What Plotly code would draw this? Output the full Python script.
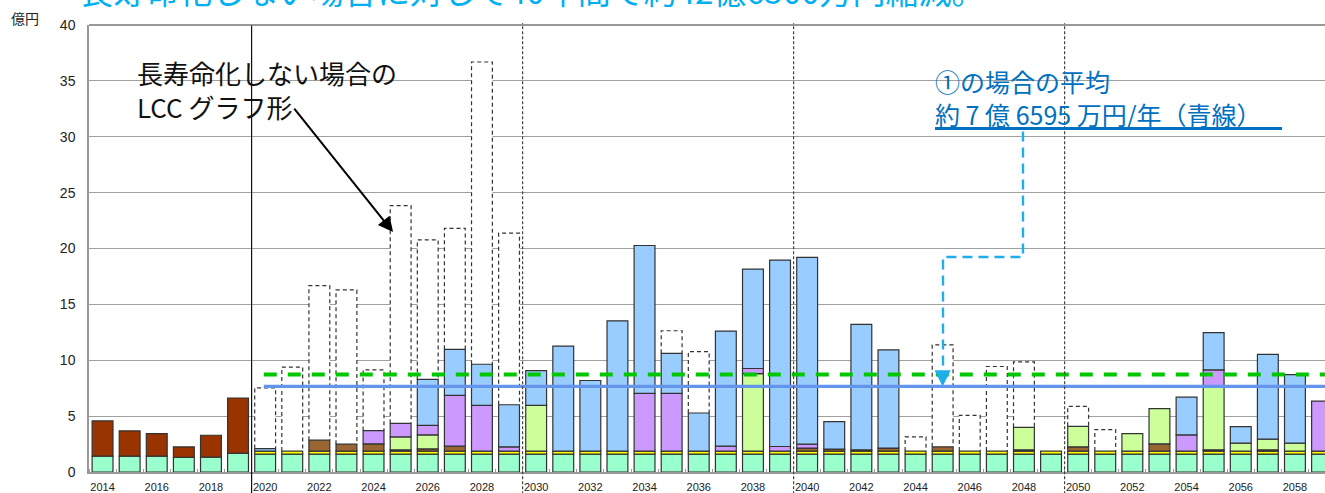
import numpy as np
import plotly.graph_objects as go

_ = None

# fiscal years on the x axis
years = list(range(2014, 2060))
tick_years = list(range(2014, 2060, 2))

# yearly costs (億円), stacked bottom to top
maint = [1.42, 1.42, 1.42, 1.30, 1.33, 1.66,
         1.60, 1.60, 1.60, 1.60, 1.60, 1.60, 1.60, 1.60, 1.60, 1.60,
         1.60, 1.60, 1.60, 1.60, 1.60, 1.60, 1.60, 1.60, 1.60, 1.60,
         1.60, 1.60, 1.60, 1.60, 1.60, 1.60, 1.60, 1.60, 1.60, 1.60,
         1.60, 1.60, 1.60, 1.60, 1.60, 1.60, 1.60, 1.60, 1.60, 1.60]
past = [3.15, 2.26, 2.02, 0.95, 1.96, 4.96,
        _, _, _, _, _, _, _, _, _, _,
        _, _, _, _, _, _, _, _, _, _,
        _, _, _, _, _, _, _, _, _, _,
        _, _, _, _, _, _, _, _, _, _]
utility = [_, _, _, _, _, _,
           0.27, 0.27, 0.27, 0.27, 0.27, 0.27, 0.27, 0.27, 0.27, 0.27,
           0.27, 0.27, 0.27, 0.27, 0.27, 0.27, 0.27, 0.27, 0.27, 0.27,
           0.27, 0.27, 0.27, 0.27, 0.27, 0.27, 0.27, 0.27, 0.27, 0.27,
           0.27, 0.27, 0.27, 0.27, 0.27, 0.27, 0.27, 0.27, 0.27, 0.27]
repair = [_, _, _, _, _, _,
          _, _, 0.98, 0.62, 0.65, 0.11, 0.20, 0.44, _, _,
          _, _, _, _, _, _, _, _, _, _,
          0.27, 0.18, 0.11, 0.27, _, 0.38, _, _, 0.11, _,
          0.38, _, _, 0.65, _, 0.11, _, 0.11, _, _]
remodel = [_, _, _, _, _, _,
           _, _, _, _, _, 1.16, 1.25, _, _, _,
           4.09, _, _, _, _, _, _, _, 6.94, _,
           _, _, _, _, _, _, _, _, 2.02, _,
           1.84, _, 1.57, 3.15, _, 5.62, 0.71, 0.96, 0.71, _]
renovate = [_, _, _, _, _, _,
            _, _, _, _, 1.19, 1.22, 0.86, 4.55, 4.09, 0.38,
            _, _, _, _, 5.16, 5.16, _, 0.44, 0.45, 0.41,
            0.35, _, _, _, _, _, _, _, _, _,
            _, _, _, _, 1.45, 1.54, _, _, _, 4.48]
rebuild = [_, _, _, _, _, _,
           0.23, _, _, _, _, _, 4.10, 4.12, 3.68, 3.77,
           3.12, 9.40, 6.32, 11.66, 13.24, 3.59, 3.41, 10.30, 8.90, 16.68,
           16.71, 2.46, 11.23, 8.78, _, _, _, _, _, _,
           _, _, _, _, 3.38, 3.33, 1.48, 7.59, 6.14, _]
# yearly total when service life is not extended
no_extension = [_, _, _, _, _, _,
                7.53, 9.38, 16.68, 16.29, 9.14, 23.83, 20.77, 21.80, 36.69, 21.37,
                _, _, _, _, _, 12.64, 10.77, _, _, _,
                _, _, _, _, 3.14, 11.37, 5.07, 9.44, 9.85, _,
                5.87, 3.80, _, _, _, _, _, _, _, _]

avg_extended = 7.6595      # 約7億6595万円/年
avg_not_extended = 8.72
period_dividers = [2019.5, 2029.5, 2039.5, 2049.5]

layers = [
    ("維持修繕費", maint, "#99FFCC"),
    ("施設整備費（実績）", past, "#993300"),
    ("光熱水費・委託費", utility, "#FFFF00"),
    ("部位修繕", repair, "#996633"),
    ("大規模改造", remodel, "#CCFF99"),
    ("長寿命化改修", renovate, "#CC99FF"),
    ("改築", rebuild, "#99CCFF"),
]

W_FIG, H_FIG = 1325, 493
L, R, T, B = 89, 0, 25, 19
PW, PH = W_FIG - L - R, H_FIG - T - B
PX_PER_YEAR = 27.1
BAR_W = 0.77
x_range = [2013.5, 2013.5 + PW / PX_PER_YEAR]


def paper_x(p):
    return (p - L) / PW


def paper_y(p):
    return (H_FIG - B - p) / PH


fig = go.Figure()

# white-filled boxes behind the stacks for the non-extended totals
fig.add_trace(go.Bar(
    x=years, y=no_extension, width=BAR_W, name="長寿命化しない場合",
    marker=dict(color="white", line=dict(width=0)), showlegend=False,
    hoverinfo="skip"))

base = np.zeros(len(years))
for name, vals, color in layers:
    arr = np.array([np.nan if v is None else v for v in vals], dtype=float)
    fig.add_trace(go.Bar(
        x=years, y=arr, base=base.copy(), width=BAR_W, name=name,
        marker=dict(color=color, line=dict(color="#333333", width=1.2)),
        showlegend=False))
    base = base + np.nan_to_num(arr)

stack_top = base

# dashed outline of the non-extended totals, visible above each stack
ox, oy = [], []
for yr, tot, top in zip(years, no_extension, stack_top):
    if tot is None or tot <= top:
        continue
    ox += [yr - BAR_W / 2, yr - BAR_W / 2, yr + BAR_W / 2, yr + BAR_W / 2, None]
    oy += [top, tot, tot, top, None]
fig.add_trace(go.Scatter(
    x=ox, y=oy, mode="lines", line=dict(color="#333333", width=1.2, dash="4px,3px"),
    showlegend=False, hoverinfo="skip"))

plan_start = years[6] - 0.05
plan_end = years[-1] + 0.5
fig.add_trace(go.Scatter(
    x=[plan_start, plan_end], y=[avg_not_extended, avg_not_extended], mode="lines",
    line=dict(color="#00C800", width=4, dash="13px,11px"), showlegend=False))
fig.add_trace(go.Scatter(
    x=[plan_start, plan_end], y=[avg_extended, avg_extended], mode="lines",
    line=dict(color="#6495ED", width=3.2), showlegend=False))

shapes = []
for i, xd in enumerate(period_dividers):
    shapes.append(dict(
        type="line", xref="x", yref="paper", x0=xd, x1=xd,
        y0=-0.05, y1=1.0 if i == 0 else 1.004, layer="above",
        line=dict(color="#111111" if i == 0 else "#444444", width=1.2,
                  dash="solid" if i == 0 else "3px,2px")))

# plot frame top edge
shapes.append(dict(type="line", xref="paper", yref="paper", x0=0, x1=1, y0=1, y1=1,
                   line=dict(color="#777777", width=1.6)))

# callout connector from the average label down to the blue line
conn = [(1023, 132), (1023, 258), (943, 258), (943, 373)]
path = "M " + " L ".join(f"{paper_x(a):.5f},{paper_y(b):.5f}" for a, b in conn)
shapes.append(dict(type="path", xref="paper", yref="paper", path=path,
                   line=dict(color="#1EAEEC", width=2.4, dash="10px,6px")))
# underline of the average label
shapes.append(dict(type="line", xref="paper", yref="paper",
                   x0=paper_x(935), x1=paper_x(1282), y0=paper_y(129), y1=paper_y(129),
                   line=dict(color="#0070C0", width=3)))

jp = "Noto Sans CJK JP"
annotations = [
    dict(text="長寿命化しない場合に対して40年間で約42億6500万円縮減。",
         xref="paper", yref="paper", x=paper_x(78), y=paper_y(-10),
         xanchor="left", yanchor="middle", showarrow=False,
         font=dict(family=jp, size=33, color="#00B0F0")),
    dict(text="億円", xref="paper", yref="paper", x=paper_x(9), y=paper_y(18),
         xanchor="left", yanchor="middle", showarrow=False,
         font=dict(family=jp, size=14, color="#222222")),
    dict(text="長寿命化しない場合の<br>LCC グラフ形",
         xref="paper", yref="paper", x=paper_x(135), y=paper_y(90),
         xanchor="left", yanchor="middle", align="left", showarrow=False,
         font=dict(family=jp, size=26, color="#111111")),
    dict(text="①の場合の平均<br>約 7 億 6595 万円/年（青線）",
         xref="paper", yref="paper", x=paper_x(933), y=paper_y(98),
         xanchor="left", yanchor="middle", align="left", showarrow=False,
         font=dict(family=jp, size=25, color="#0070C0")),
    # black pointer to the non-extended bars
    dict(text="", xref="x", yref="y", x=2024.72, y=21.47, ax=-100, ay=-125,
         showarrow=True, arrowhead=2, arrowsize=1.5, arrowwidth=2, arrowcolor="#000000"),
    # head of the callout connector
    dict(text="", xref="x", yref="y", x=2045.0, y=avg_extended, ax=0, ay=-16,
         showarrow=True, arrowhead=2, arrowsize=1.3, arrowwidth=2.5, arrowcolor="#1EAEEC"),
]

fig.update_layout(
    width=W_FIG, height=H_FIG,
    margin=dict(l=L, r=R, t=T, b=B, pad=0),
    barmode="overlay",
    plot_bgcolor="white", paper_bgcolor="white",
    shapes=shapes, annotations=annotations,
    showlegend=False,
    xaxis=dict(
        range=x_range, tickmode="array", tickvals=tick_years,
        ticktext=[str(y) for y in tick_years], ticks="",
        tickfont=dict(family="Liberation Sans", size=11, color="#222222"),
        ticklabelstandoff=4,
        showgrid=False, zeroline=False, showline=True, linecolor="#999999", linewidth=1.5,
        minor=dict(ticks="inside", ticklen=3, tickcolor="#999999", tick0=2013.5, dtick=1,
                   showgrid=False),
        fixedrange=True),
    yaxis=dict(
        range=[0, 40], dtick=5, tick0=0,
        tickfont=dict(family="Liberation Sans", size=14, color="#222222"),
        ticklabelstandoff=9,
        showgrid=True, gridcolor="#A0A0A0", gridwidth=1.3,
        zeroline=False, showline=True, linecolor="#999999", linewidth=1.5,
        fixedrange=True),
)

fig.write_html("out.html")
